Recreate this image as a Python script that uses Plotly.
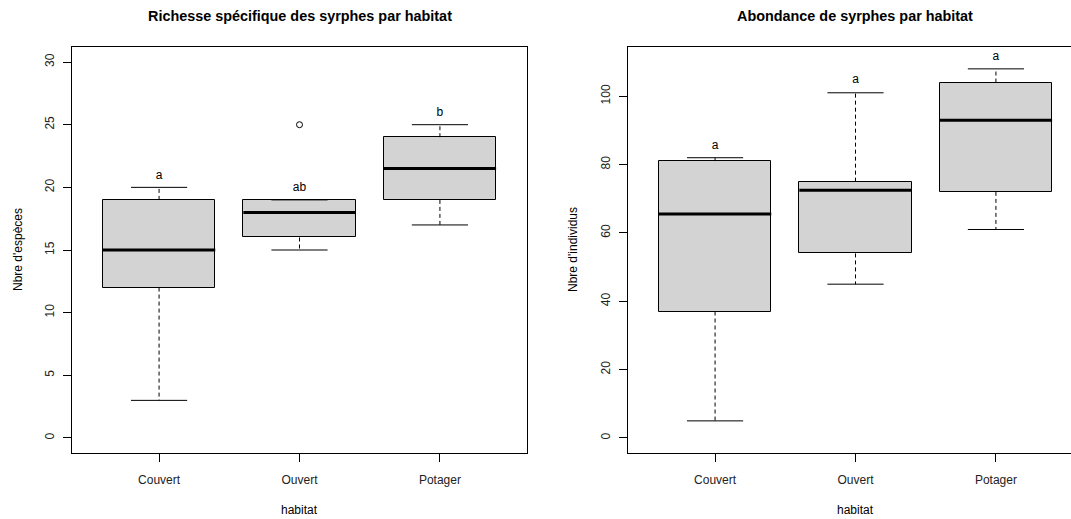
import plotly.graph_objects as go

W, H = 1071, 519

habitats = ["Couvert", "Ouvert", "Potager"]
xpos = [1, 2, 3]

# Panel 1: Richesse spécifique
rich_low = [3, 15, 17]
rich_q1 = [12, 16, 19]
rich_med = [15, 18, 21.5]
rich_q3 = [19, 19, 24]
rich_high = [20, 19, 25]
rich_out_x = [2]
rich_out_y = [25]
rich_letters = ["a", "ab", "b"]
rich_letter_y = [20.9, 19.95, 25.9]
rich_ticks = [0, 5, 10, 15, 20, 25, 30]

# Panel 2: Abondance
abon_low = [5, 45, 61]
abon_q1 = [37, 54, 72]
abon_med = [65.5, 72.5, 93]
abon_q3 = [81, 75, 104]
abon_high = [82, 101, 108]
abon_letters = ["a", "a", "a"]
abon_letter_y = [85.4, 104.6, 111.6]
abon_ticks = [0, 20, 40, 60, 80, 100]

BOXW = 0.8
CAPW = 0.4
FONT = "Liberation Sans, Arial, sans-serif"

fig = go.Figure()


def segs(xs, y0s, y1s, half=0.0):
    X, Y = [], []
    for x, a, b in zip(xs, y0s, y1s):
        if half:
            X += [x - half, x + half, None]
            Y += [a, a, None]
        else:
            X += [x, x, None]
            Y += [a, b, None]
    return X, Y


def add_panel(low, q1, med, q3, high, letters, letter_y, xa, ya, outx=None, outy=None):
    # whiskers (dashed)
    X1, Y1 = segs(xpos, q3, high)
    X2, Y2 = segs(xpos, q1, low)
    fig.add_trace(go.Scatter(x=X1 + X2, y=Y1 + Y2, mode="lines",
                             line=dict(color="black", width=1, dash="4px,3px"),
                             xaxis=xa, yaxis=ya, hoverinfo="skip", showlegend=False))
    # caps
    X3, Y3 = segs(xpos, high, high, half=CAPW / 2)
    X4, Y4 = segs(xpos, low, low, half=CAPW / 2)
    fig.add_trace(go.Scatter(x=X3 + X4, y=Y3 + Y4, mode="lines",
                             line=dict(color="black", width=1),
                             xaxis=xa, yaxis=ya, hoverinfo="skip", showlegend=False))
    # boxes
    fig.add_trace(go.Bar(x=xpos, y=[b - a for a, b in zip(q1, q3)], base=q1,
                         width=BOXW, marker=dict(color="#D3D3D3",
                                                 line=dict(color="black", width=1)),
                         xaxis=xa, yaxis=ya, showlegend=False))
    # medians
    X5, Y5 = segs(xpos, med, med, half=BOXW / 2)
    fig.add_trace(go.Scatter(x=X5, y=Y5, mode="lines",
                             line=dict(color="black", width=3),
                             xaxis=xa, yaxis=ya, hoverinfo="skip", showlegend=False))
    if outx:
        fig.add_trace(go.Scatter(x=outx, y=outy, mode="markers",
                                 marker=dict(symbol="circle-open", size=6,
                                             color="black", line=dict(width=1)),
                                 xaxis=xa, yaxis=ya, showlegend=False))
    fig.add_trace(go.Scatter(x=xpos, y=letter_y, mode="text", text=letters,
                             textposition="middle center",
                             textfont=dict(family=FONT, size=12, color="black"),
                             xaxis=xa, yaxis=ya, showlegend=False))


add_panel(rich_low, rich_q1, rich_med, rich_q3, rich_high, rich_letters,
          rich_letter_y, "x", "y", rich_out_x, rich_out_y)
add_panel(abon_low, abon_q1, abon_med, abon_q3, abon_high, abon_letters,
          abon_letter_y, "x2", "y2")

ytop = 1 - 47 / H
ybot = 1 - 453 / H
PXU = 455 / 3.24  # pixels per category unit

axis_common = dict(showline=True, linecolor="black", linewidth=1, ticks="outside",
                   ticklen=8, tickcolor="black", tickwidth=1, showgrid=False,
                   zeroline=False, tickfont=dict(family=FONT, size=12, color="#222"),
                   fixedrange=True)

fig.update_layout(
    width=W, height=H, margin=dict(l=0, r=0, t=0, b=0),
    paper_bgcolor="white", plot_bgcolor="white", bargap=0,
    xaxis=dict(domain=[72 / W, 527 / W], range=[0.38, 3.62], tickvals=xpos,
               ticktext=habitats, mirror=True, anchor="y", ticklabelstandoff=8,
               **axis_common),
    yaxis=dict(domain=[ybot, ytop], range=[-1.2, 31.2], tickvals=rich_ticks,
               mirror=True, anchor="x", tickangle=-90, ticklabelstandoff=4,
               **axis_common),
    xaxis2=dict(domain=[628 / W, 1.0], range=[0.38, 0.38 + (W - 628) / PXU],
                tickvals=xpos, ticktext=habitats, mirror=True, anchor="y2",
                ticklabelstandoff=8, **axis_common),
    yaxis2=dict(domain=[ybot, ytop], range=[-4.4, 114.4], tickvals=abon_ticks,
                mirror=False, anchor="x2", tickangle=-90, ticklabelstandoff=4,
                **axis_common),
)

ann = [
    dict(text="<b>Richesse spécifique des syrphes par habitat</b>", x=299.5 / W, y=1 - 16 / H,
         font=dict(size=14.4)),
    dict(text="<b>Abondance de syrphes par habitat</b>", x=855 / W, y=1 - 16 / H,
         font=dict(size=14.4)),
    dict(text="habitat", x=299.5 / W, y=1 - 510 / H, font=dict(size=12)),
    dict(text="habitat", x=855 / W, y=1 - 510 / H, font=dict(size=12)),
    dict(text="Nbre d'espèces", x=18 / W, y=1 - 250 / H, textangle=-90, font=dict(size=12)),
    dict(text="Nbre d'individus", x=573 / W, y=1 - 250 / H, textangle=-90, font=dict(size=12)),
]
for a in ann:
    f = a.pop("font")
    fig.add_annotation(xref="paper", yref="paper", xanchor="center", yanchor="middle",
                       showarrow=False, font=dict(family=FONT, color="black", **f), **a)

fig.write_html("out.html")
